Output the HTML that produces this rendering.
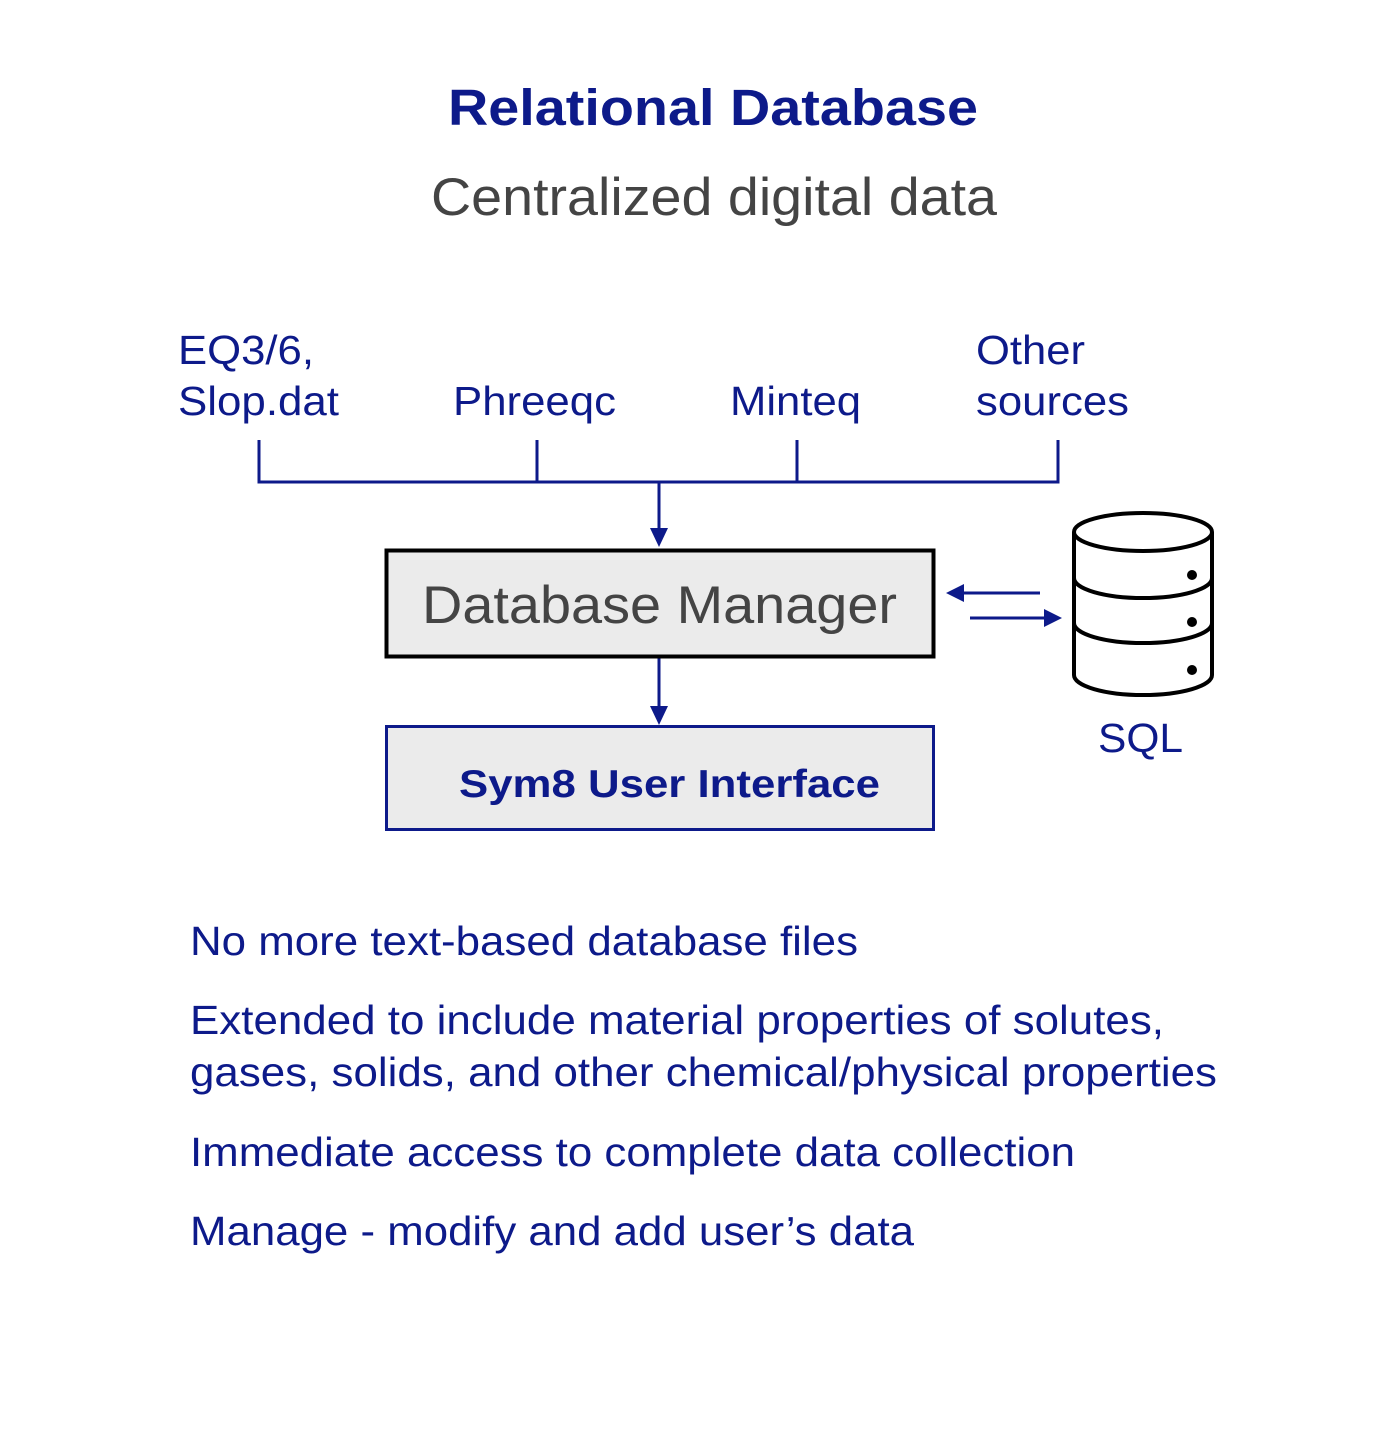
<!DOCTYPE html>
<html><head><style>
body{margin:0;background:#fff;}
svg text{font-family:"Liberation Sans",Arial,sans-serif;}
</style></head><body>
<svg width="1388" height="1448" viewBox="0 0 1388 1448" xmlns="http://www.w3.org/2000/svg">
<text x="448" y="125" font-size="51" font-weight="bold" fill="#0d1a8a" textLength="530" lengthAdjust="spacingAndGlyphs">Relational Database</text>
<text x="431" y="215" font-size="53" fill="#444" textLength="566" lengthAdjust="spacingAndGlyphs">Centralized digital data</text>
<g font-size="41" fill="#0d1a8a">
<text x="178" y="364" textLength="136" lengthAdjust="spacingAndGlyphs">EQ3/6,</text>
<text x="178" y="415" textLength="161" lengthAdjust="spacingAndGlyphs">Slop.dat</text>
<text x="453" y="415" textLength="163" lengthAdjust="spacingAndGlyphs">Phreeqc</text>
<text x="730" y="415" textLength="131" lengthAdjust="spacingAndGlyphs">Minteq</text>
<text x="976" y="364" textLength="109" lengthAdjust="spacingAndGlyphs">Other</text>
<text x="976" y="415" textLength="153" lengthAdjust="spacingAndGlyphs">sources</text>
</g>
<g stroke="#0d1a8a" stroke-width="3" fill="none">
<path d="M259 440V482H1058V440M537 440V482M797 440V482"/>
<path d="M659 482V530M659 658V708"/>
<path d="M1040 593H960M970 618H1045"/>
</g>
<g fill="#0d1a8a">
<polygon points="650,528 668,528 659,547"/>
<polygon points="650,706 668,706 659,725"/>
<polygon points="946,593 964,584 964,602"/>
<polygon points="1062,618 1044,609 1044,627"/>
</g>
<rect x="386.5" y="550.5" width="547" height="106" fill="#ebebeb" stroke="#000" stroke-width="4"/>
<text x="422" y="623" font-size="53" fill="#444" textLength="475" lengthAdjust="spacingAndGlyphs">Database Manager</text>
<rect x="386.5" y="726.5" width="547" height="103" fill="#ebebeb" stroke="#0d1a8a" stroke-width="3"/>
<text x="459" y="797" font-size="39" font-weight="bold" fill="#0d1a8a" textLength="421" lengthAdjust="spacingAndGlyphs">Sym8 User Interface</text>
<g stroke="#000" stroke-width="4" fill="#fff">
<path d="M1074 532V675A69 20 0 0 0 1212 675V532"/>
<ellipse cx="1143" cy="532" rx="69" ry="19"/>
<path d="M1074 578A69 20 0 0 0 1212 578M1074 623A69 20 0 0 0 1212 623" fill="none"/>
</g>
<g fill="#000"><circle cx="1192" cy="575" r="5"/><circle cx="1192" cy="622" r="5"/><circle cx="1192" cy="670" r="5"/></g>
<text x="1098" y="752" font-size="41" fill="#0d1a8a" textLength="85" lengthAdjust="spacingAndGlyphs">SQL</text>
<g font-size="41" fill="#0d1a8a">
<text x="190" y="955" textLength="668" lengthAdjust="spacingAndGlyphs">No more text-based database files</text>
<text x="190" y="1034" textLength="974" lengthAdjust="spacingAndGlyphs">Extended to include material properties of solutes,</text>
<text x="190" y="1086" textLength="1027" lengthAdjust="spacingAndGlyphs">gases, solids, and other chemical/physical properties</text>
<text x="190" y="1166" textLength="885" lengthAdjust="spacingAndGlyphs">Immediate access to complete data collection</text>
<text x="190" y="1245" textLength="724" lengthAdjust="spacingAndGlyphs">Manage - modify and add user’s data</text>
</g>
</svg>
</body></html>
